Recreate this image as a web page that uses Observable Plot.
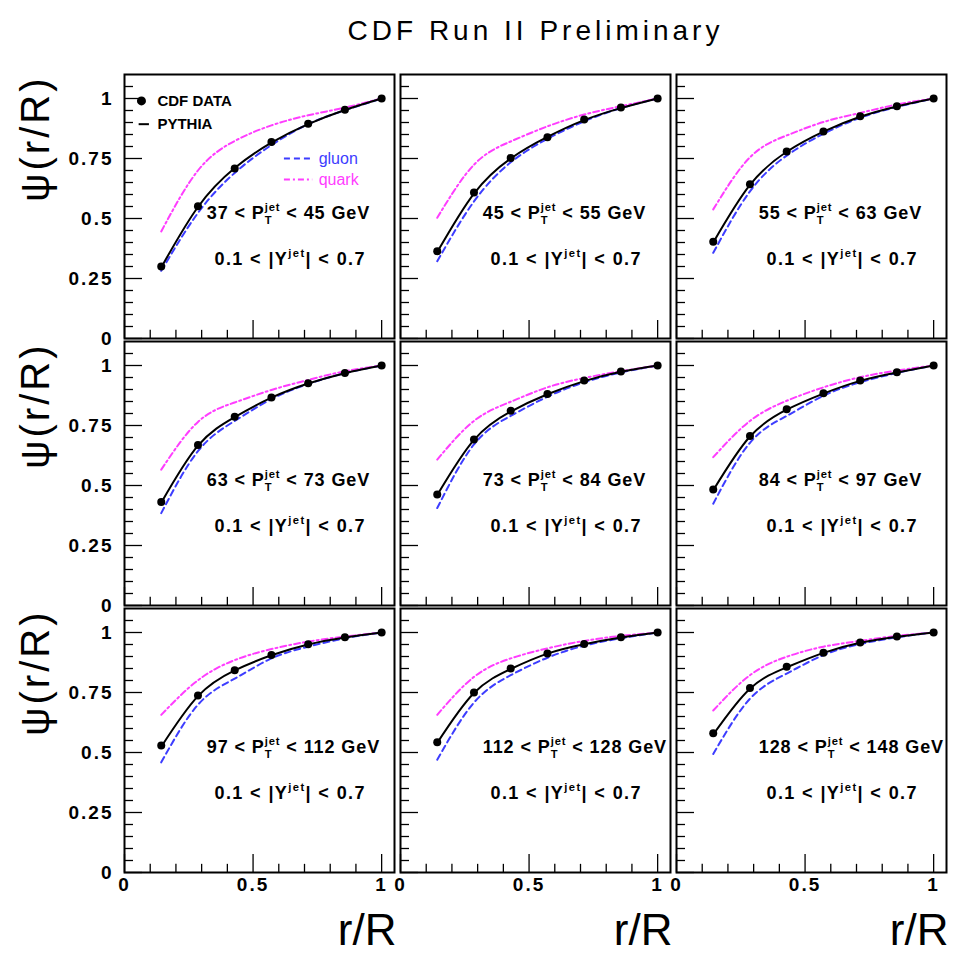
<!DOCTYPE html>
<html>
<head>
<meta charset="utf-8">
<script src="https://cdn.jsdelivr.net/npm/d3@7"></script>
<script src="https://cdn.jsdelivr.net/npm/@observablehq/plot@0.6"></script>
<style>
  html, body { margin: 0; padding: 0; background: #fff; }
  body { width: 955px; font-family: "Liberation Sans", Arial, sans-serif; }
  #title { height: 60px; width: 955px; box-sizing: border-box; padding-left: 123px; padding-right: 7px;
           text-align: center; font-size: 28px; line-height: 62px; letter-spacing: 4px; color: #000; }
  #chart svg { display: block; }
  g[aria-label="y-axis tick label"] text, g[aria-label="x-axis tick label"] text { letter-spacing: 2px; }
</style>
</head>
<body>
<div id="title">CDF Run II Preliminary</div>
<div id="chart"></div>
<script>
// r/R values of the integrated jet shape points (R = 0.7, r = 0.1 ... 0.7)
const rR = [1/7, 2/7, 3/7, 4/7, 5/7, 6/7, 1];

// panel labels (jet transverse momentum bins)
const ptLabels = [
  "37 < P_T^jet < 45 GeV",
  "45 < P_T^jet < 55 GeV",
  "55 < P_T^jet < 63 GeV",
  "63 < P_T^jet < 73 GeV",
  "73 < P_T^jet < 84 GeV",
  "84 < P_T^jet < 97 GeV",
  "97 < P_T^jet < 112 GeV",
  "112 < P_T^jet < 128 GeV",
  "128 < P_T^jet < 148 GeV"
];
const rapidityLabel = "0.1 < |Y^jet| < 0.7";

// Ψ(r/R) values per panel, at rR
const cdfData = [
  [0.300, 0.551, 0.708, 0.819, 0.895, 0.953, 1.0],
  [0.364, 0.608, 0.752, 0.839, 0.912, 0.962, 1.0],
  [0.403, 0.643, 0.779, 0.863, 0.926, 0.968, 1.0],
  [0.431, 0.669, 0.786, 0.867, 0.926, 0.969, 1.0],
  [0.462, 0.692, 0.811, 0.881, 0.937, 0.975, 1.0],
  [0.483, 0.706, 0.818, 0.884, 0.937, 0.972, 1.0],
  [0.529, 0.738, 0.843, 0.906, 0.951, 0.980, 1.0],
  [0.543, 0.750, 0.850, 0.913, 0.952, 0.980, 1.0],
  [0.580, 0.769, 0.857, 0.916, 0.958, 0.983, 1.0]
];
const pythia = [
  [0.296, 0.548, 0.710, 0.816, 0.893, 0.952, 1.0],
  [0.360, 0.604, 0.750, 0.840, 0.910, 0.960, 1.0],
  [0.400, 0.640, 0.778, 0.862, 0.924, 0.967, 1.0],
  [0.428, 0.666, 0.785, 0.866, 0.925, 0.968, 1.0],
  [0.460, 0.690, 0.808, 0.880, 0.935, 0.974, 1.0],
  [0.480, 0.704, 0.816, 0.883, 0.936, 0.971, 1.0],
  [0.524, 0.735, 0.842, 0.905, 0.950, 0.979, 1.0],
  [0.540, 0.748, 0.848, 0.912, 0.951, 0.979, 1.0],
  [0.575, 0.766, 0.855, 0.915, 0.957, 0.982, 1.0]
];
const gluon = [
  [0.282, 0.523, 0.690, 0.806, 0.893, 0.951, 1.0],
  [0.322, 0.571, 0.734, 0.832, 0.905, 0.960, 1.0],
  [0.357, 0.613, 0.762, 0.853, 0.920, 0.965, 1.0],
  [0.385, 0.643, 0.769, 0.860, 0.923, 0.968, 1.0],
  [0.406, 0.671, 0.790, 0.870, 0.930, 0.971, 1.0],
  [0.424, 0.678, 0.790, 0.874, 0.930, 0.969, 1.0],
  [0.459, 0.699, 0.808, 0.892, 0.941, 0.976, 1.0],
  [0.470, 0.708, 0.822, 0.895, 0.945, 0.976, 1.0],
  [0.494, 0.724, 0.829, 0.906, 0.952, 0.980, 1.0]
];
const quark = [
  [0.446, 0.700, 0.823, 0.888, 0.930, 0.962, 1.0],
  [0.503, 0.724, 0.821, 0.884, 0.933, 0.968, 1.0],
  [0.538, 0.755, 0.846, 0.902, 0.940, 0.975, 1.0],
  [0.566, 0.765, 0.846, 0.898, 0.940, 0.976, 1.0],
  [0.608, 0.769, 0.849, 0.909, 0.948, 0.976, 1.0],
  [0.618, 0.769, 0.853, 0.909, 0.951, 0.979, 1.0],
  [0.657, 0.801, 0.885, 0.931, 0.962, 0.983, 1.0],
  [0.657, 0.815, 0.892, 0.934, 0.965, 0.986, 1.0],
  [0.675, 0.822, 0.899, 0.941, 0.965, 0.986, 1.0]
];

// axis ticks
const xMajorTicks = [0, 0.5, 1];
const xMinorTicks = [0.1, 0.2, 0.3, 0.4, 0.6, 0.7, 0.8, 0.9];
const yMajorTicks = [0, 0.25, 0.5, 0.75, 1];
const yMinorTicks = [0.05, 0.1, 0.15, 0.2, 0.3, 0.35, 0.4, 0.45, 0.55, 0.6, 0.65, 0.7, 0.8, 0.85, 0.9, 0.95, 1.05];
const xTickLabels = ["0", "0.5", "1"];
const yTickLabels = ["0", "0.25", "0.5", "0.75", "1"];

const yTitle = "ψ(r/R)";
const xTitle = "r/R";

// ---- build tables ----
const seriesList = [["CDF DATA", cdfData], ["PYTHIA", pythia], ["gluon", gluon], ["quark", quark]];
const table = [];
for (const [name, arr] of seriesList) {
  arr.forEach((vals, p) => vals.forEach((v, k) =>
    table.push({series: name, panel: p, col: p % 3, row: Math.floor(p / 3), r: rR[k], psi: v})));
}
const bySeries = s => table.filter(d => d.series === s);
const panels = ptLabels.map((label, p) => ({label, col: p % 3, row: Math.floor(p / 3)}));
const firstPanel = [{col: 0, row: 0}];
const leftPanels = [0, 1, 2].map(row => ({col: 0, row}));
const bottomPanels = [0, 1, 2].map(col => ({col, row: 2}));

const FONT = "Liberation Sans, Arial, sans-serif";
const BLUE = "#3d3dff";
const MAGENTA = "#ff3dff";
const fxy = {fx: "col", fy: "row"};
const CURVE = "natural";

const chart = Plot.plot({
  width: 955,
  height: 895,
  marginLeft: 123,
  marginRight: 7,
  marginTop: 13,
  marginBottom: 83,
  x: {domain: [0, 1.05]},
  y: {domain: [0, 1.1]},
  fx: {axis: null, domain: [0, 1, 2], paddingInner: 0.02, paddingOuter: 0},
  fy: {axis: null, domain: [0, 1, 2], paddingInner: 0.012, paddingOuter: 0},
  style: {fontFamily: FONT, color: "#000", background: "#fff", overflow: "visible"},
  marks: [
    // inward ticks (ROOT style)
    Plot.ruleX(xMinorTicks, {x: d => d, y1: 0, y2: 0.034, stroke: "#000", strokeWidth: 1.3}),
    Plot.ruleX(xMajorTicks, {x: d => d, y1: 0, y2: 0.075, stroke: "#000", strokeWidth: 1.3}),
    Plot.ruleY(yMinorTicks, {y: d => d, x1: 0, x2: 0.035, stroke: "#000", strokeWidth: 1.3}),
    Plot.ruleY(yMajorTicks, {y: d => d, x1: 0, x2: 0.07, stroke: "#000", strokeWidth: 1.3}),
    // axes labels
    Plot.axisY({ticks: yMajorTicks, tickSize: 0, tickPadding: 11, label: null,
      tickFormat: d => yTickLabels[yMajorTicks.indexOf(d)], fontSize: 19, fontWeight: "bold"}),
    Plot.axisX({ticks: xMajorTicks, tickSize: 0, tickPadding: 5, label: null,
      tickFormat: d => xTickLabels[xMajorTicks.indexOf(d)], fontSize: 19, fontWeight: "bold"}),
    // curves
    Plot.line(bySeries("gluon"), {x: "r", y: "psi", z: "panel", ...fxy, curve: CURVE,
      stroke: BLUE, strokeWidth: 2, strokeDasharray: "6,4"}),
    Plot.line(bySeries("quark"), {x: "r", y: "psi", z: "panel", ...fxy, curve: CURVE,
      stroke: MAGENTA, strokeWidth: 2, strokeDasharray: "6,3,2,3"}),
    Plot.line(bySeries("PYTHIA"), {x: "r", y: "psi", z: "panel", ...fxy, curve: CURVE,
      stroke: "#000", strokeWidth: 2}),
    Plot.dot(bySeries("CDF DATA"), {x: "r", y: "psi", ...fxy, r: 4, fill: "#000", stroke: "none"}),
    // panel labels
    Plot.text(panels, {...fxy, text: "label", x: 0.32, y: 0.52, textAnchor: "start",
      fontSize: 18, fontWeight: "bold", clip: "frame"}),
    Plot.text(panels, {...fxy, text: () => rapidityLabel, x: 0.35, y: 0.33, textAnchor: "start",
      fontSize: 18, fontWeight: "bold", clip: "frame"}),
    // legend (first panel)
    Plot.dot(firstPanel, {...fxy, x: 0.066, y: 0.99, r: 4.5, fill: "#000"}),
    Plot.text(firstPanel, {...fxy, x: 0.128, y: 0.99, text: () => "CDF DATA", textAnchor: "start",
      fontSize: 15, fontWeight: "bold"}),
    Plot.link(firstPanel, {...fxy, x1: 0.055, x2: 0.095, y1: 0.893, y2: 0.893, stroke: "#000", strokeWidth: 2}),
    Plot.text(firstPanel, {...fxy, x: 0.128, y: 0.893, text: () => "PYTHIA", textAnchor: "start",
      fontSize: 15, fontWeight: "bold"}),
    Plot.link(firstPanel, {...fxy, x1: 0.62, x2: 0.73, y1: 0.75, y2: 0.75, stroke: BLUE, strokeWidth: 2, strokeDasharray: "6,4"}),
    Plot.text(firstPanel, {...fxy, x: 0.755, y: 0.75, text: () => "gluon", textAnchor: "start",
      fontSize: 16, fill: BLUE}),
    Plot.link(firstPanel, {...fxy, x1: 0.62, x2: 0.73, y1: 0.662, y2: 0.662, stroke: MAGENTA, strokeWidth: 2, strokeDasharray: "6,3,2,3"}),
    Plot.text(firstPanel, {...fxy, x: 0.755, y: 0.662, text: () => "quark", textAnchor: "start",
      fontSize: 16, fill: MAGENTA}),
    // axis titles
    Plot.text(leftPanels, {...fxy, frameAnchor: "top-left", text: () => yTitle, rotate: -90,
      textAnchor: "end", lineAnchor: "middle", dx: -88, dy: 1, fontSize: 40}),
    Plot.text(bottomPanels, {...fxy, frameAnchor: "bottom-right", text: () => xTitle,
      textAnchor: "end", lineAnchor: "middle", dx: 2, dy: 58, fontSize: 44}),
    // frames
    Plot.frame({stroke: "#000", strokeWidth: 2})
  ]
});
document.getElementById("chart").appendChild(chart);

// letter spacing to match the wide ROOT lettering
chart.querySelectorAll("text").forEach(t => {
  const s = t.textContent;
  if (s.includes("GeV")) t.style.letterSpacing = "0.9px";
  else if (s.includes("|Y")) t.style.letterSpacing = "1.4px";
  else if (s === yTitle) t.style.letterSpacing = "3px";
});

// sub/superscripts (P_T^jet, Y^jet) as real SVG tspans
function richify(root) {
  const NS = "http://www.w3.org/2000/svg";
  root.querySelectorAll("text").forEach(t => {
    const s = t.textContent;
    if (!s.includes("^")) return;
    let m = s.match(/^(.*?)_(\w)\^(\w+)(.*)$/);
    let pre, sub, sup, post;
    if (m) { [, pre, sub, sup, post] = m; }
    else { m = s.match(/^(.*?)\^(\w+)(.*)$/); if (!m) return; [, pre, sup, post] = m; sub = null; }
    const fs = parseFloat(getComputedStyle(t).fontSize) || 17;
    while (t.firstChild) t.removeChild(t.firstChild);
    const mk = (txt, attrs) => {
      const e = document.createElementNS(NS, "tspan");
      e.textContent = txt;
      for (const k in attrs) e.setAttribute(k, attrs[k]);
      t.appendChild(e);
      return e;
    };
    mk(pre, {});
    const small = fs * 0.62;
    let lift;
    if (sub) {
      const e = mk(sub, {"font-size": small, dy: fs * 0.28});
      const w = e.getComputedTextLength();
      mk(sup, {"font-size": small, dx: -w, dy: -fs * 0.76});
      lift = fs * 0.48;
    } else {
      mk(sup, {"font-size": small, dy: -fs * 0.45});
      lift = fs * 0.45;
    }
    mk(post, {dy: lift});
  });
}
richify(chart);
</script>
</body>
</html>
